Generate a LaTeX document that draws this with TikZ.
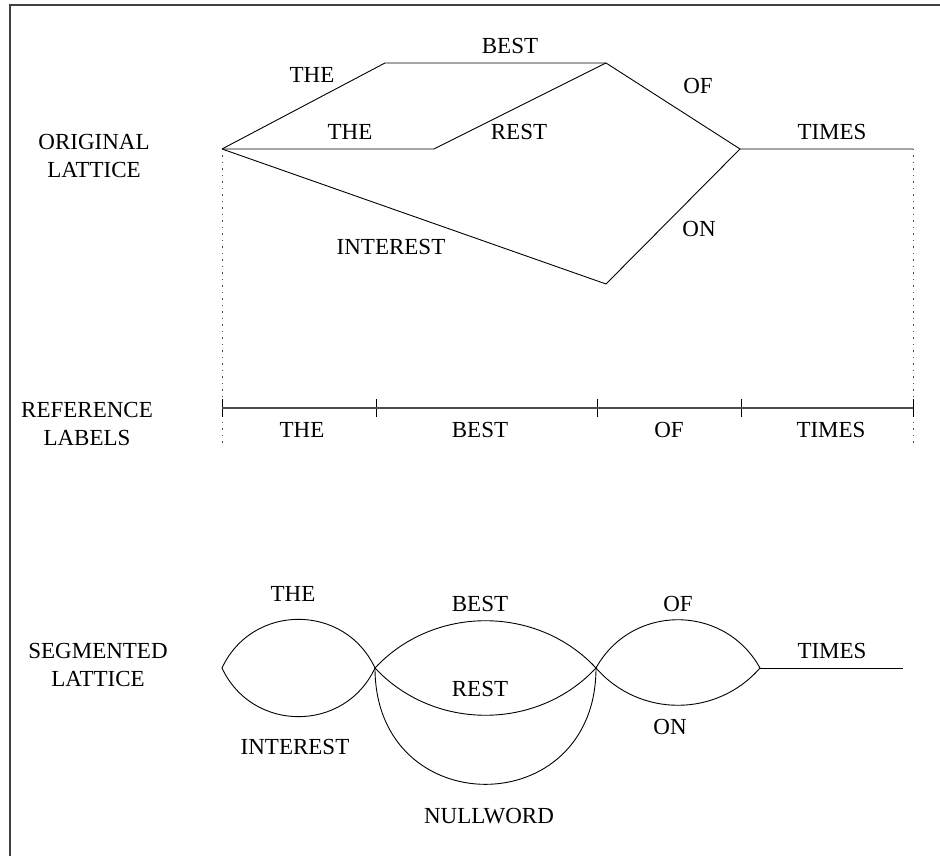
\documentclass[tikz,border=0pt]{standalone}
\usepackage{fontspec}
\setmainfont{Liberation Serif}
\usetikzlibrary{positioning}
\tikzset{
  word/.style={inner sep=0pt, align=center, font=\fontsize{23}{27.5}\selectfont},
  latline/.style={line width=0.9pt},
  dotline/.style={line width=0.8pt, black!70, dash pattern=on 1.5pt off 5pt},
}

\begin{document}
\begin{tikzpicture}[x=1pt, y=1pt]
    \useasboundingbox (0,0) rectangle (940,856);
    \draw[line width=1.3pt, black!75] (940,851) -- (10,851) -- (10,0);

    % original lattice
    \coordinate (a) at (222,707);
    \coordinate (b) at (385,793);
    \coordinate (c) at (606,793);
    \coordinate (d) at (434,707);
    \coordinate (e) at (740,707);
    \coordinate (f) at (913,707);
    \coordinate (g) at (606,572);
    \draw[latline] (a) -- (b) -- (c) -- (e) -- (f);
    \draw[latline] (a) -- (d) -- (c);
    \draw[latline] (a) -- (g) -- (e);

    \node[word] (origlbl) at (94,700) {ORIGINAL\\LATTICE};
    \node[word] (theup) at (312,781) {THE};
    \node[word] (bestup) at (510,810) {BEST};
    \node[word] (ofup) at (698,770) {OF};
    \node[word] (thelow) at (350,724) {THE};
    \node[word] (restup) at (519,724) {REST};
    \node[word] (timesup) at (832,724) {TIMES};
    \node[word] (interup) at (391,609) {INTEREST};
    \node[word] (onup) at (699,627) {ON};

    % dotted guides
    \coordinate (da) at (222,411);
    \coordinate (df) at (913,411);
    \draw[dotline] (a) -- (da);
    \draw[dotline] (f) -- (df);

    % reference labels
    \foreach \x [count=\i] in {222,376,597,741,913} {
        \coordinate (r\i) at (\x,448);
        \draw[line width=0.8pt] (\x,439) -- (\x,457);
    }
    \draw[line width=1.2pt, black!70] (r1) -- (r5);
    \node[word] (reflbl) at (87,432) {REFERENCE\\LABELS};
    \node[word] (refthe) at (302,426) {THE};
    \node[word] (refbest) at (480,426) {BEST};
    \node[word] (refof) at (669,426) {OF};
    \node[word] (reftimes) at (831,426) {TIMES};

    % segmented lattice
    \coordinate (s0) at (222,188);
    \coordinate (s1) at (375,188);
    \coordinate (s2) at (596,188);
    \coordinate (s3) at (760,188);
    \coordinate (s4) at (903,188);
    \draw[latline] (s0) to[bend left=65, looseness=1.2] (s1);
    \draw[latline] (s0) to[bend right=65, looseness=1.2] (s1);
    \draw[latline] (s1) to[bend left=47] (s2);
    \draw[latline] (s1) to[bend right=47] (s2);
    \draw[latline] (s1) to[out=-90, in=-90, looseness=1.8] (s2);
    \draw[latline] (s2) to[bend left=61, looseness=1.15] (s3);
    \draw[latline] (s2) to[bend right=49, looseness=1.03] (s3);
    \draw[latline] (s3) -- (s4);

    \node[word] (seglbl) at (98,191) {SEGMENTED\\LATTICE};
    \node[word] (segthe) at (293,262) {THE};
    \node[word] (segbest) at (480,252) {BEST};
    \node[word] (segof) at (678,252) {OF};
    \node[word] (segtimes) at (832,205) {TIMES};
    \node[word] (segrest) at (480,167) {REST};
    \node[word] (segon) at (670,129) {ON};
    \node[word] (seginter) at (295,109) {INTEREST};
    \node[word] (segnull) at (489,40) {NULLWORD};
\end{tikzpicture}
\end{document}
